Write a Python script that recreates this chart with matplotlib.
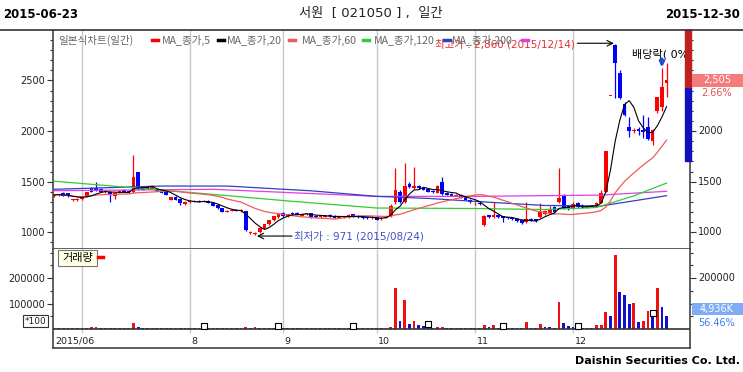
import numpy as np
import pandas as pd
import matplotlib
matplotlib.use('Agg')
import matplotlib.pyplot as plt
from matplotlib.lines import Line2D
from matplotlib.patches import Rectangle

plt.rcParams['font.family'] = ['DejaVu Sans', 'Noto Sans CJK KR']

# daily candles for 서원 (021050), 2015-06-23 .. 2015-12-30
holidays = ['2015-08-14', '2015-09-28', '2015-09-29', '2015-10-09', '2015-12-25']

opens = [1360, 1365, 1390, 1385, 1320, 1315, 1330, 1350, 1435, 1440, 1425, 1395, 1400, 1355, 1390,
         1420, 1410, 1400, 1595, 1450, 1445, 1430, 1430, 1415, 1395, 1320, 1350, 1330, 1275,
         1295, 1300, 1310, 1300, 1310, 1290, 1270, 1240, 1205, 1215, 1225, 1210, 1210, 995, 985,
         1000, 1040, 1080, 1120, 1150,
         1190, 1160, 1195, 1190, 1165, 1180, 1190, 1160, 1150, 1155, 1175, 1165, 1145, 1150, 1150,
         1180, 1165, 1155, 1150, 1140,
         1150, 1130, 1145, 1160, 1300, 1400, 1300, 1480, 1440, 1460, 1440, 1430, 1410, 1390, 1500,
         1390, 1380, 1360, 1370, 1345, 1320,
         1285, 1290, 1070, 1170, 1150, 1175, 1160, 1150, 1145, 1135, 1120, 1100, 1135, 1130, 1150,
         1180, 1190, 1250, 1300, 1370, 1260,
         1240, 1290, 1270, 1250, 1265, 1255, 1290, 1400, 2345, 2855, 2570, 2270, 2040, 2000, 2020,
         2010, 2040, 1900, 2200, 2240, 2480]
highs = [1380, 1380, 1395, 1390, 1330, 1335, 1360, 1400, 1445, 1495, 1435, 1415, 1405, 1395, 1420,
         1425, 1420, 1766, 1600, 1460, 1455, 1455, 1440, 1420, 1400, 1350, 1355, 1335, 1305,
         1315, 1320, 1315, 1320, 1315, 1295, 1275, 1245, 1225, 1230, 1230, 1230, 1215, 1010, 1000,
         1050, 1085, 1125, 1165, 1190,
         1200, 1185, 1205, 1200, 1190, 1195, 1195, 1170, 1165, 1175, 1180, 1170, 1160, 1165, 1180,
         1185, 1170, 1160, 1155, 1160,
         1155, 1150, 1165, 1280, 1640, 1420, 1680, 1500, 1645, 1470, 1450, 1440, 1420, 1470, 1545,
         1400, 1385, 1380, 1375, 1350, 1330,
         1300, 1295, 1170, 1175, 1300, 1180, 1165, 1155, 1150, 1140, 1125, 1300, 1140, 1135, 1290,
         1220, 1260, 1255, 1640, 1380, 1270,
         1295, 1295, 1275, 1270, 1270, 1300, 1420, 1805, 2345, 2860, 2600, 2290, 2140, 2030, 2040,
         2160, 2140, 2020, 2340, 2620, 2670]
lows = [1350, 1355, 1355, 1350, 1305, 1305, 1320, 1345, 1395, 1410, 1395, 1385, 1300, 1330, 1385,
        1395, 1390, 1390, 1420, 1415, 1425, 1425, 1405, 1385, 1365, 1315, 1315, 1270, 1265,
        1290, 1295, 1295, 1295, 1285, 1255, 1235, 1200, 1200, 1210, 1210, 1205, 1015, 985, 971,
        995, 1035, 1075, 1115, 1145,
        1155, 1155, 1175, 1170, 1160, 1175, 1140, 1145, 1145, 1150, 1155, 1140, 1140, 1145, 1145,
        1155, 1145, 1135, 1135, 1135,
        1120, 1125, 1140, 1155, 1280, 1290, 1290, 1440, 1430, 1430, 1415, 1395, 1390, 1385, 1370,
        1365, 1355, 1355, 1335, 1315, 1290,
        1265, 1270, 1060, 1145, 1145, 1145, 1100, 1135, 1125, 1105, 1085, 1095, 1115, 1105, 1145,
        1175, 1185, 1195, 1290, 1235, 1225,
        1235, 1245, 1245, 1245, 1250, 1250, 1285, 1395, 2345, 2330, 2320, 2150, 1940, 1980, 1960,
        1930, 1910, 1860, 2180, 2200, 2335]
closes = [1370, 1375, 1360, 1355, 1325, 1330, 1350, 1395, 1400, 1415, 1400, 1405, 1370, 1390, 1410,
          1400, 1395, 1545, 1440, 1420, 1430, 1445, 1410, 1390, 1370, 1345, 1320, 1285, 1300,
          1305, 1310, 1300, 1310, 1290, 1260, 1240, 1205, 1215, 1220, 1215, 1220, 1025, 1000, 995,
          1040, 1080, 1120, 1160, 1180,
          1160, 1180, 1180, 1175, 1185, 1190, 1150, 1150, 1160, 1170, 1160, 1145, 1150, 1155, 1170,
          1160, 1150, 1140, 1140, 1150,
          1125, 1145, 1160, 1260, 1420, 1300, 1460, 1450, 1460, 1435, 1420, 1400, 1395, 1460, 1380,
          1370, 1360, 1370, 1340, 1320, 1295,
          1290, 1275, 1160, 1150, 1170, 1150, 1140, 1140, 1130, 1110, 1090, 1130, 1120, 1110, 1200,
          1210, 1230, 1200, 1340, 1240, 1230,
          1280, 1250, 1250, 1260, 1255, 1290, 1390, 1805, 2345, 2670, 2330, 2160, 2000, 2010, 2005,
          1990, 1920, 2010, 2335, 2440, 2505]
# volume, in units of 100 shares
volume = [4000, 3000, 5000, 3500, 4500, 3000, 3500, 4500, 6000, 8000, 4000, 3000, 5000, 4000, 3500,
          3000, 2500, 25000, 9000, 4000, 3000, 3500, 2500, 3000, 2500, 3000, 4000, 3500, 3000,
          3000, 2500, 3000, 2500, 3500, 3000, 3500, 3000, 2500, 3000, 2500, 3000, 7000, 5000, 6000,
          4000, 3500, 3000, 3500, 3000,
          3000, 2500, 3000, 2500, 3000, 2500, 3500, 3000, 2500, 3000, 2500, 3000, 2500, 3000, 3500,
          3000, 2500, 3000, 2500, 3000,
          3000, 3500, 4500, 8000, 160000, 31000, 114000, 18000, 33000, 16000, 11000, 9000, 4000, 6000,
          7000, 4000, 3500, 4500, 3000, 3500, 3000,
          3000, 2500, 15000, 9000, 15000, 4000, 3000, 3500, 3000, 4000, 3500, 26000, 5000, 4000, 20000,
          8000, 7000, 4000, 107000, 22000, 13000,
          6000, 4000, 3000, 4000, 3000, 15000, 16000, 68000, 51000, 291000, 145000, 132000, 98000,
          104000, 28000, 33000, 72000, 55000, 160000, 87425, 49360]

# longer moving averages (history before the window is not shown), read at a few days
ma60_idx = [0, 17, 34, 50, 69, 90, 105, 116, 124, 131]
ma60_val = [1505, 1440, 1375, 1310, 1240, 1235, 1225, 1245, 1360, 1487]
ma120_idx = [0, 23, 37, 55, 69, 80, 92, 105, 117, 131]
ma120_val = [1425, 1457, 1457, 1410, 1355, 1335, 1300, 1265, 1260, 1362]
ma200_idx = [0, 34, 69, 90, 117, 131]
ma200_val = [1411, 1425, 1355, 1355, 1368, 1405]

# squares on the volume baseline
mark_idx = [32, 48, 64, 80, 96, 112, 128]

date_lbl_idx = [0, 29, 49, 69, 90, 111]
date_lbl = ['2015/06', '8', '9', '10', '11', '12']

price_ticks = [1000, 1500, 2000, 2500]
vol_ticks = [100000, 200000]
# right-hand labels not shown in the original (covered by the last-value boxes)
price_right = [1000, 1500, 2000]
vol_right = [200000]

dates = pd.bdate_range('2015-06-23', '2015-12-30', freq='C', holidays=holidays)
n = len(dates)
x = np.arange(n)
o = np.array(opens, float)
h = np.array(highs, float)
l = np.array(lows, float)
c = np.array(closes, float)
v = np.array(volume, float)

ma5 = pd.Series(c).rolling(5, min_periods=1).mean()
ma20 = pd.Series(c).rolling(20, min_periods=1).mean()
month_start = [i for i in range(1, n) if dates[i].month != dates[i - 1].month]

W, H = 743, 372
fig = plt.figure(figsize=(W / 100, H / 100), dpi=100)


def fx(px):
    return px / W


def fy(py):
    return 1 - py / H


def box(lft, top, rgt, bot):
    return [fx(lft), fy(bot), (rgt - lft) / W, (bot - top) / H]


ax = fig.add_axes(box(53, 30, 690, 249))
axv = fig.add_axes(box(53, 249, 690, 348))

XL = (-0.21, 136.0)
PY = (835, 2999)
VY = (-74800, 314960)

# price panel
ax.set_xlim(*XL)
ax.set_ylim(*PY)
for m in month_start:
    ax.axvline(m, color='#c8c8c8', lw=1, zorder=0)

up = c >= o
ccol = np.where(up, '#ff0000', '#0000ff')
ax.vlines(x, l, h, colors=ccol, lw=0.9, zorder=2)
ax.bar(x, np.maximum(np.abs(c - o), 7), bottom=np.minimum(o, c), width=0.8,
       color=ccol, lw=0, zorder=3)

ax.plot(ma200_idx, ma200_val, color='#e040e0', lw=0.9, zorder=4)
ax.plot(ma120_idx, ma120_val, color='#3040c0', lw=0.9, zorder=4)
ax.plot(ma60_idx, ma60_val, color='#33cc33', lw=0.9, zorder=4)
ax.plot(x, ma20, color='#f05a5a', lw=0.9, zorder=4)
ax.plot(x, ma5, color='black', lw=0.8, zorder=4)

ax.set_yticks(price_ticks)
ax.set_yticks(np.arange(900, 3000, 100), minor=True)

# high / low notes
hi_i = int(np.argmax(h))
lo_i = int(np.argmin(l))
ax.annotate('', xy=(hi_i - 0.3, 2868), xytext=(hi_i - 8.1, 2868),
            arrowprops=dict(arrowstyle='->', color='black', lw=0.8, shrinkA=0, shrinkB=0), zorder=6)
ax.text(hi_i - 8.7, 2860, '최고가 : {:,} ({})'.format(int(h[hi_i]), dates[hi_i].strftime('%Y/%m/%d')),
        ha='right', va='center', fontsize=7.5, color='#e83030', zorder=6)
ax.annotate('', xy=(lo_i + 0.4, 963), xytext=(lo_i + 7.9, 963),
            arrowprops=dict(arrowstyle='->', color='black', lw=0.8, shrinkA=0, shrinkB=0), zorder=6)
ax.text(lo_i + 8.3, 963, '최저가 : {} ({})'.format(int(l[lo_i]), dates[lo_i].strftime('%Y/%m/%d')),
        ha='left', va='center', fontsize=7.5, color='#4050c8', zorder=6)

# ex-dividend marker
ax.text(123.7, 2755, '배당락( 0%)', ha='left', va='center', fontsize=8, color='black',
        clip_on=True, zorder=6)
ax.annotate('', xy=(130, 2630), xytext=(130, 2715),
            arrowprops=dict(arrowstyle='-|>', color='#1f4fd8', lw=2, mutation_scale=7,
                            shrinkA=0, shrinkB=0), zorder=6)

# daily price-limit band on the right edge
prev = c[-2]
ax.add_patch(Rectangle((134.96, prev * 0.7), 1.24, prev - prev * 0.7, color='#1010c0',
                       clip_on=False, zorder=7))
ax.add_patch(Rectangle((134.96, prev), 1.24, min(prev * 1.3, PY[1]) - prev, color='#c02020',
                       clip_on=False, zorder=7))

# volume panel
axv.set_xlim(*XL)
axv.set_ylim(*VY)
for m in month_start:
    axv.vlines(m, -16000, VY[1], color='#c8c8c8', lw=1, zorder=0)
vcol = ['#ee1111' if i == 0 or v[i] >= v[i - 1] else '#1111cc' for i in range(n)]
axv.bar(x, v, width=0.6, color=vcol, lw=0, zorder=2)
axv.axhline(0, color='#333333', lw=1.2, zorder=3)
axv.scatter(mark_idx, v[mark_idx] + 9000, marker='s', s=15, facecolor='white',
            edgecolor='black', lw=0.8, zorder=4)
axv.set_yticks(vol_ticks)
axv.set_yticklabels([str(t) for t in vol_ticks])
axv.set_yticks([50000, 150000, 250000, 300000], minor=True)
for i, t in zip(date_lbl_idx, date_lbl):
    axv.text(i + 0.35, -48000, t, ha='left', va='center', fontsize=6.8, color='#222')

for a, rlabels in ((ax, price_right), (axv, vol_right)):
    a.tick_params(axis='y', which='both', left=True, right=True, labelleft=True,
                  labelright=False, direction='out', color='#333', labelcolor='#222',
                  labelsize=7, pad=1.5, width=0.8)
    a.tick_params(axis='y', which='major', length=4)
    a.tick_params(axis='y', which='minor', length=2.5)
    a.tick_params(axis='x', which='both', bottom=False, labelbottom=False)
    for s in a.spines.values():
        s.set_color('#444444')
        s.set_linewidth(1.2)
    a.spines['top'].set_visible(False)
    for t in rlabels:
        a.annotate(str(t), xy=(1, t), xycoords=a.get_yaxis_transform(), xytext=(6, 0),
                   textcoords='offset points', ha='left', va='center', fontsize=7,
                   color='#222', annotation_clip=False)

# header
fig.add_artist(Line2D([0, 1], [fy(29.5)] * 2, color='#333333', lw=1.2))
fig.text(fx(3), fy(14), '2015-06-23', ha='left', va='center', fontsize=8.5, weight='bold')
fig.text(fx(740), fy(14), '2015-12-30', ha='right', va='center', fontsize=8.5, weight='bold')
fig.text(fx(371), fy(14), '서원  [ 021050 ] ,  일간', ha='center', va='center', fontsize=9.5,
         color='#222')

# legend row
legend = [('일본식차트(일간)', 58, 152, '#ff0000'),
          ('MA_종가,5', 162, 218, 'black'),
          ('MA_종가,20', 227, 289, '#f05a5a'),
          ('MA_종가,60', 302, 363, '#33cc33'),
          ('MA_종가,120', 374, 444, '#3040c0'),
          ('MA_종가,200', 452, 522, '#e040e0')]
for name, tx, dx, col in legend:
    fig.text(fx(tx), fy(40), name, ha='left', va='center', fontsize=7.6, color='#666666',
             family=['Noto Sans CJK KR', 'DejaVu Sans'], zorder=2)
    fig.add_artist(Line2D([fx(dx), fx(dx + 6)], [fy(40)] * 2, color=col, lw=2.5))

# last price / volume boxes on the right
fig.add_artist(Rectangle((fx(692), fy(87)), 51 / W, 13 / H, transform=fig.transFigure,
                         facecolor='#f47c7c', edgecolor='none'))
fig.text(fx(717), fy(80.5), '{:,}'.format(int(c[-1])), ha='center', va='center', fontsize=7,
         color='white')
fig.text(fx(717), fy(93), '{:.2f}%'.format((c[-1] / c[-2] - 1) * 100), ha='center', va='center',
         fontsize=7, color='#e8504c')
fig.add_artist(Rectangle((fx(692), fy(315)), 51 / W, 12 / H, transform=fig.transFigure,
                         facecolor='#80acf5', edgecolor='none'))
fig.text(fx(717), fy(309), '{:,}K'.format(int(v[-1] * 100 / 1000)), ha='center', va='center',
         fontsize=7, color='white')
fig.text(fx(717), fy(322.7), '{:.2f}%'.format(v[-1] / v[-2] * 100), ha='center', va='center',
         fontsize=7, color='#3c7ff0')

# volume title and unit
fig.add_artist(Rectangle((fx(58), fy(266)), 39 / W, 16 / H, transform=fig.transFigure,
                         facecolor='#ffffe6', edgecolor='#777777', lw=0.8))
fig.text(fx(77.5), fy(258), '거래량', ha='center', va='center', fontsize=8, color='black')
fig.add_artist(Line2D([fx(98), fx(103)], [fy(257)] * 2, color='#ff0000', lw=2.5))
fig.add_artist(Rectangle((fx(23), fy(327)), 25 / W, 12 / H, transform=fig.transFigure,
                         facecolor='white', edgecolor='#333333', lw=0.8))
fig.text(fx(35.5), fy(321), '*100', ha='center', va='center', fontsize=6.5, color='#222')

fig.text(fx(740), fy(361), 'Daishin Securities Co. Ltd.', ha='right', va='center', fontsize=8,
         weight='bold')

fig.savefig('out.png', dpi=100)
